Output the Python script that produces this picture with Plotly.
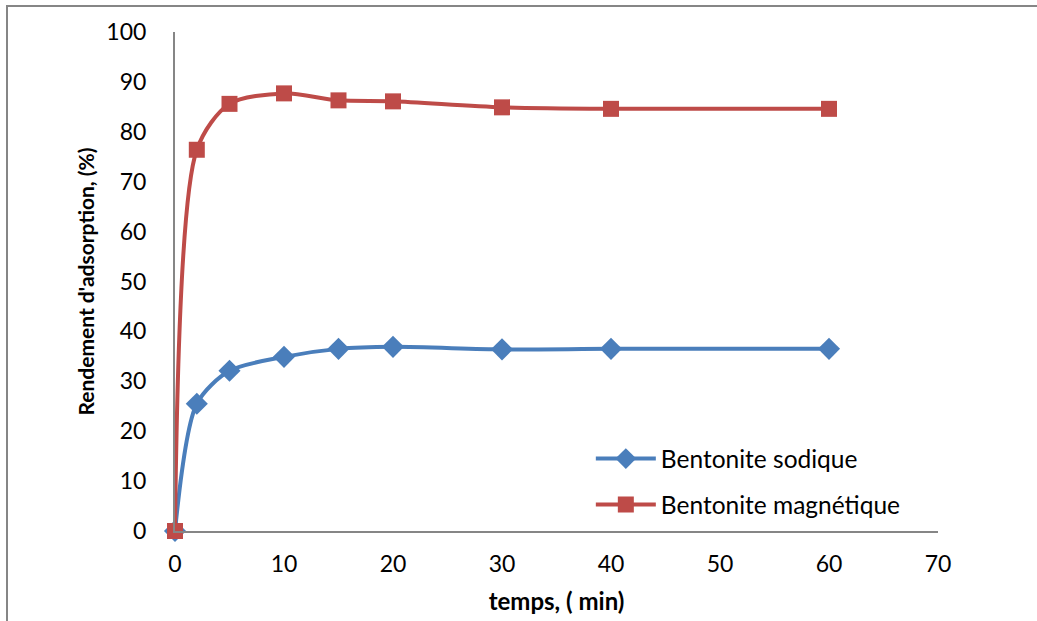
import plotly.graph_objects as go

temps = [0, 2, 5, 10, 15, 20, 30, 40, 60]
sodique = [0, 25.5, 32.1, 34.9, 36.5, 36.9, 36.4, 36.5, 36.5]
magnetique = [0, 76.4, 85.6, 87.7, 86.3, 86.1, 84.9, 84.6, 84.6]

fig = go.Figure()
fig.add_trace(go.Scatter(
    x=temps, y=sodique, name="Bentonite sodique", mode="lines+markers",
    legendgroup="a",
    line=dict(color="#4A7EBB", width=4, shape="spline", smoothing=0.8),
    marker=dict(symbol="diamond", size=17, color="#4A7EBB"),
    cliponaxis=False))
fig.add_trace(go.Scatter(
    x=temps, y=magnetique, name="Bentonite magnétique", mode="lines+markers",
    legendgroup="b",
    line=dict(color="#BE4B48", width=4, shape="spline", smoothing=0.8),
    marker=dict(symbol="square", size=16, color="#BE4B48"),
    cliponaxis=False))

font = "Lato, 'Open Sans', sans-serif"
fig.update_layout(
    width=1037, height=621,
    margin=dict(l=175, r=99, t=32, b=90),
    paper_bgcolor="white", plot_bgcolor="white",
    font=dict(family=font, size=23, color="black"),
    showlegend=True,
    legend=dict(x=0.545, y=0.19, xanchor="left", yanchor="top",
                bgcolor="rgba(0,0,0,0)", font=dict(size=24.5),
                tracegroupgap=11, itemwidth=60),
    xaxis=dict(range=[0, 70], dtick=10, showgrid=False, zeroline=False,
               showline=True, linecolor="#868686", linewidth=2,
               ticks="", ticklabelstandoff=11, automargin=False,
               title=dict(text="<b>temps, ( min)</b>", font=dict(size=24), standoff=18)),
    yaxis=dict(range=[0, 100], dtick=10, showgrid=False, zeroline=False,
               showline=True, linecolor="#868686", linewidth=2,
               ticks="", ticklabelstandoff=22, automargin=False,
               title=dict(text="<b>Rendement d'adsorption, (%)</b>", font=dict(size=21), standoff=6)),
)

# outer chart border (left and top visible)
fig.add_shape(type="rect", xref="paper", yref="paper",
              x0=(7 - 175) / 763, x1=(1045 - 175) / 763,
              y0=(531 - 640) / 499, y1=(531 - 6) / 499,
              line=dict(color="#868686", width=2), layer="below")

fig.write_html("out.html")
